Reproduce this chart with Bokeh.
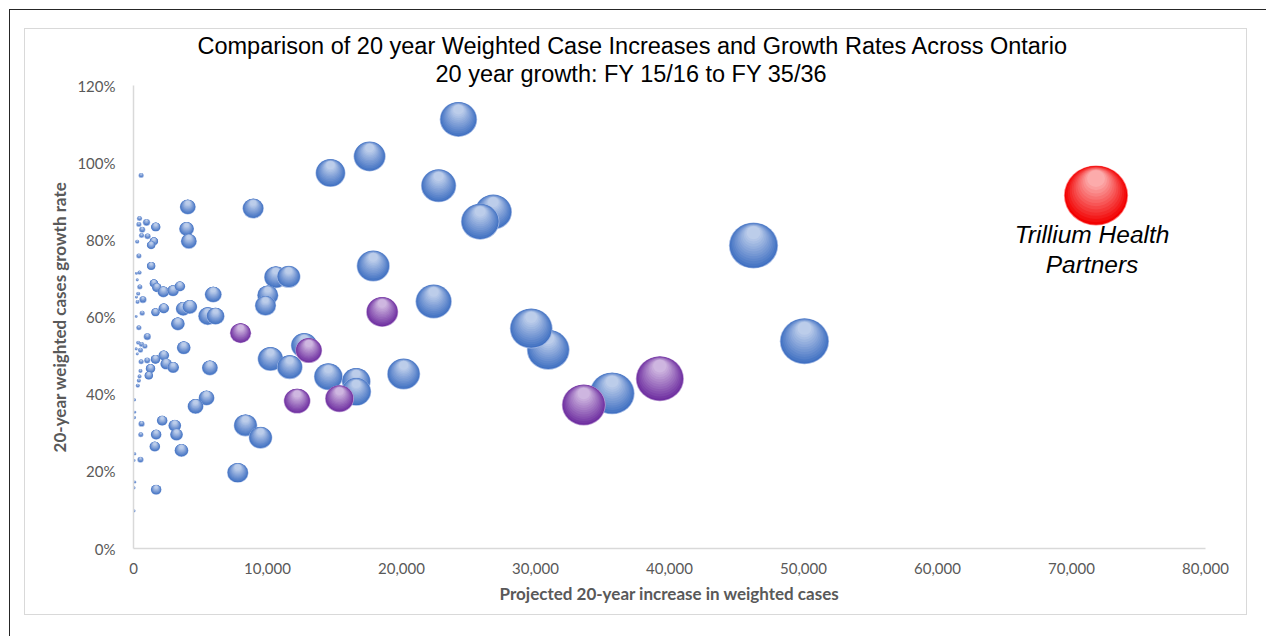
import numpy as np
from bokeh.plotting import figure
from bokeh.models import Range1d, FixedTicker, NumeralTickFormatter, Label, Title, InlineStyleSheet
from bokeh.embed import file_html
from bokeh.resources import INLINE

# ---------------- data ----------------
title_1 = "Comparison of 20 year Weighted Case Increases and Growth Rates Across Ontario"
title_2 = "20 year growth: FY 15/16 to FY 35/36"
x_title = "Projected 20-year increase in weighted cases"
y_title = "20-year weighted cases growth rate"
x_ticks = [0, 10000, 20000, 30000, 40000, 50000, 60000, 70000, 80000]
y_ticks = [0.0, 0.2, 0.4, 0.6, 0.8, 1.0, 1.2]

# other hospitals (blue): increase in weighted cases, growth %, bubble size (relative)
blue_increase = [570, 450, 970, 400, 1660, 650, 600, 1050, 1520, 1320, 275, 400, 1320, 450, 220, 280,
                 1520, 1740, 470, 2230, 2950, 3460, 350, 220, 700, 300, 650, 1640, 2260, 200, 400, 1030,
                 350, 600, 850, 200, 520, 280, 2260, 1640, 1020, 570, 2440, 2960, 1270, 520, 450, 1140,
                 400, 320, 80, 100, 80, 600, 2140, 545, 1690, 1590, 100, 40, 520, 100, 40, 1690, 40,
                 4050, 3960, 4130, 3710, 4200, 3310, 5540, 6120, 5950, 3750, 5700, 5450, 4630, 3080,
                 3210, 3580, 7780, 8360, 9480, 8930,
                 24250, 17620, 14700, 22770, 26850, 25870, 46270, 17890, 10620, 11580, 10020, 9850,
                 22400, 30950, 29680, 50070, 12740, 10220, 11660, 14540, 16620, 16620, 20160, 35720]
blue_growth = [96.7, 85.5, 84.5, 84.0, 83.3, 82.6, 81.1, 80.9, 79.6, 78.6, 79.5, 75.8, 73.2, 71.5, 71.3, 69.6,
               68.7, 67.6, 67.8, 66.5, 66.8, 67.9, 66.0, 65.1, 64.5, 63.9, 61.0, 61.2, 62.2, 60.1, 57.2, 54.9,
               53.3, 52.9, 52.4, 51.7, 51.4, 50.4, 50.0, 49.0, 48.7, 48.4, 47.8, 46.9, 46.6, 46.0, 44.6, 44.8,
               43.5, 42.2, 38.5, 35.3, 33.9, 32.3, 33.1, 29.5, 29.5, 26.4, 24.5, 22.8, 23.0, 17.2, 15.7, 15.2, 9.7,
               88.5, 82.8, 79.6, 62.1, 62.6, 58.2, 60.2, 60.2, 65.8, 52.0, 46.8, 39.0, 36.8, 31.8,
               29.5, 25.4, 19.6, 31.9, 28.7, 88.1,
               111.2, 101.6, 97.3, 94.0, 87.2, 84.7, 78.5, 73.2, 70.3, 70.4, 65.6, 62.9,
               64.0, 51.5, 57.0, 53.7, 52.6, 49.1, 47.0, 44.5, 43.3, 40.6, 45.2, 40.2]
blue_size = [0.51, 0.51, 1.0, 0.51, 1.65, 0.73, 0.51, 0.73, 1.31, 1.31, 0.33, 0.51, 1.31, 0.33, 0.18, 0.18,
             1.31, 1.65, 0.51, 2.47, 2.47, 2.04, 0.33, 0.18, 1.0, 0.33, 0.51, 1.31, 2.04, 0.18, 0.51, 1.0,
             0.33, 0.51, 0.51, 0.18, 0.51, 0.18, 2.04, 1.65, 0.73, 0.51, 2.47, 2.47, 1.65, 0.33, 0.33, 1.31,
             0.33, 0.33, 0.18, 0.18, 0.18, 0.73, 2.04, 0.51, 2.04, 2.04, 0.18, 0.18, 0.73, 0.18, 0.18, 2.04, 0.18,
             4.59, 4.0, 4.59, 4.0, 4.0, 3.45, 6.61, 5.9, 5.22, 3.45, 4.59, 4.59, 4.59, 2.94,
             2.94, 3.45, 8.16, 9.88, 9.88, 8.16,
             25.0, 18.37, 16.0, 22.22, 25.0, 26.45, 43.18, 19.61, 9.88, 9.88, 8.16, 8.16,
             23.59, 32.65, 32.65, 43.18, 12.76, 11.76, 11.76, 14.88, 14.88, 16.0, 19.61, 36.0]

# peer hospitals (purple)
purple_increase = [7990, 18560, 13080, 12210, 15370, 33600, 39280]
purple_growth = [55.8, 61.3, 51.3, 38.2, 38.8, 37.2, 44.0]
purple_size = [8.16, 18.37, 12.76, 12.76, 14.88, 34.31, 41.33]

# Trillium Health Partners (red)
thp_increase = [71830]
thp_growth = [91.5]
thp_size = [73.47]
thp_name_1 = "Trillium Health"
thp_name_2 = "Partners"

# ---------------- layout constants ----------------
OFF = 10                      # page offset of the plot content (dark frame line at 9px)
W, H = 1267 - OFF, 637 - OFF
LEFT, RIGHT, TOP, BOTTOM = 133 - OFF, 62, 85 - OFF, 89
FRAME_H = H - TOP - BOTTOM
Y_MIN, Y_MAX = 0.0, 1.2
DY_PER_PX = (Y_MAX - Y_MIN) / FRAME_H
K = 7.0  # px per sqrt(size unit)
ASPECT = 1.07

p = figure(width=W, height=H, output_backend="svg", toolbar_location=None,
           x_range=Range1d(0, 80000), y_range=Range1d(Y_MIN, Y_MAX),
           min_border_left=LEFT, min_border_right=RIGHT, min_border_top=TOP, min_border_bottom=BOTTOM,
           background_fill_color="white", border_fill_color="white")
p.outline_line_color = None
p.xgrid.visible = False
p.ygrid.visible = False
p.styles = {"margin-left": "9px", "margin-top": "9px",
            "border-top": "1px solid #262626", "border-left": "1px solid #262626"}
p.stylesheets = [InlineStyleSheet(css="""
:host { position: relative; }
:host::after {
  content: ""; position: absolute; left: 14px; top: 18px; right: 19px; bottom: 21px;
  border: 1.5px solid #D9D9D9; pointer-events: none; z-index: 50;
}
""")]


def hex2rgb(h):
    h = h.lstrip("#")
    return np.array([int(h[i:i + 2], 16) for i in (0, 2, 4)], dtype=float)


def mix(c1, c2, f):
    c = hex2rgb(c1) * (1 - f) + hex2rgb(c2) * f
    return "#%02x%02x%02x" % tuple(int(round(v)) for v in c)


def draw_bubbles(xs, growth, sizes, base, light, rim):
    for x, g, s in zip(xs, growth, sizes):
        d = K * np.sqrt(s)
        y = g / 100.0
        hs, ys, cs = [], [], []
        hs.append(d); ys.append(y); cs.append(rim)
        hs.append(max(d - 1.6, 1.0)); ys.append(y); cs.append(base)
        n = 12 if d > 8 else 3
        for i in range(1, n + 1):
            sc = 1 - 0.72 * i / n
            h = d * sc
            shift = d * (1 - sc) / 2 * 0.78
            hs.append(h)
            ys.append(y + shift * DY_PER_PX)
            cs.append(mix(base, light, 0.75 * i / n))
        hs = np.array(hs)
        p.ellipse(x=[x] * len(hs), y=ys, width=list(hs * ASPECT), height=list(hs),
                  width_units="screen", height_units="screen",
                  fill_color=cs, line_color=None)


draw_bubbles(blue_increase, blue_growth, blue_size, "#4070C2", "#E6ECF8", "#9DB5E2")
draw_bubbles(purple_increase, purple_growth, purple_size, "#6E2EA0", "#EEE3F5", "#B795D0")
draw_bubbles(thp_increase, thp_growth, thp_size, "#F20000", "#FFE4E4", "#FF8080")

# axes
for ax in (p.xaxis, p.yaxis):
    ax.axis_line_color = "#D9D9D9"
    ax.axis_line_width = 1.5
    ax.major_tick_in = 0
    ax.major_tick_out = 0
    ax.minor_tick_in = 0
    ax.minor_tick_out = 0
    ax.major_label_text_font = "Lato"
    ax.major_label_text_font_size = "15px"
    ax.major_label_text_color = "#595959"
    ax.axis_label_text_font = "Lato"
    ax.axis_label_text_font_size = "17px"
    ax.axis_label_text_font_style = "bold"
    ax.axis_label_text_color = "#595959"

p.xaxis.ticker = FixedTicker(ticks=x_ticks)
p.yaxis.ticker = FixedTicker(ticks=y_ticks)
p.xaxis.formatter = NumeralTickFormatter(format="0,0")
p.yaxis.formatter = NumeralTickFormatter(format="0%")
p.xaxis.axis_label = x_title
p.yaxis.axis_label = y_title
p.xaxis.major_label_standoff = 14
p.yaxis.major_label_standoff = 18
p.xaxis.axis_label_standoff = 6
p.yaxis.axis_label_standoff = 4

# titles (last added is furthest from the plot)
p.add_layout(Title(text=title_2, align="left", offset=302, standoff=-2,
                   text_font="Liberation Sans", text_font_size="23.5px", text_font_style="normal",
                   text_color="#000000"), "above")
p.add_layout(Title(text=title_1, align="left", offset=64, standoff=1,
                   text_font="Liberation Sans", text_font_size="23.5px", text_font_style="normal",
                   text_color="#000000"), "above")

# Trillium label
for txt, off in ((thp_name_1, -39), (thp_name_2, -69)):
    p.add_layout(Label(x=thp_increase[0], y=thp_growth[0] / 100.0, x_offset=-4, y_offset=off, text=txt,
                       text_align="center", text_baseline="middle", text_font="Liberation Sans",
                       text_font_style="italic", text_font_size="24.5px", text_color="#000000"))

open("out.html", "w").write(file_html(p, INLINE))
